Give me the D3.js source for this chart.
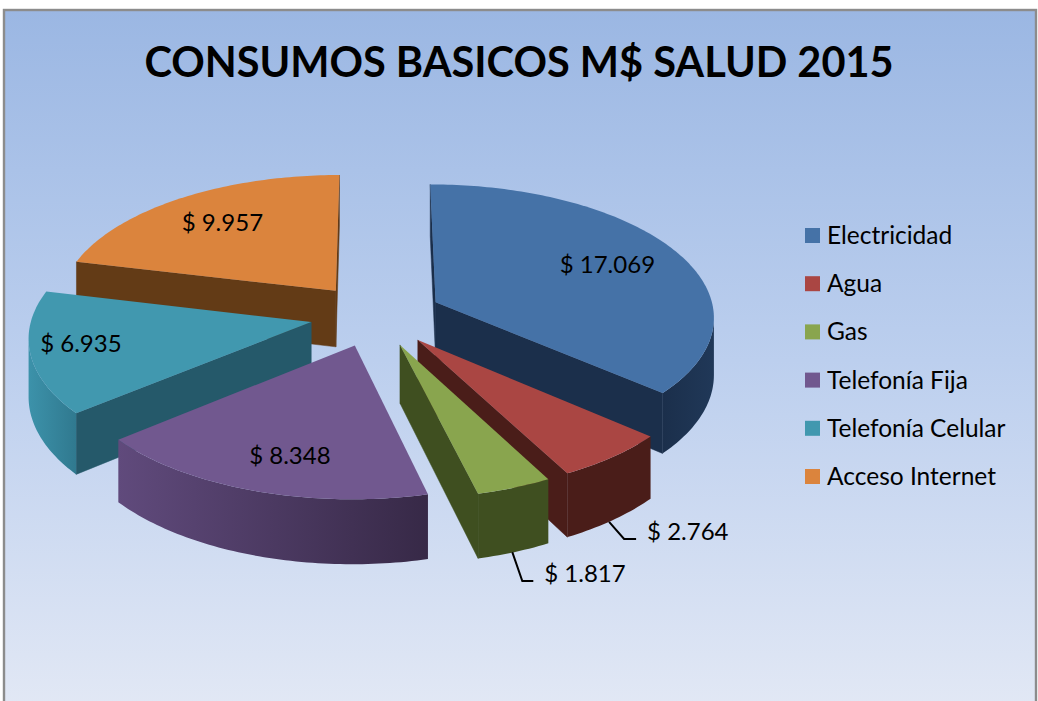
<!DOCTYPE html>
<html>
<head>
<meta charset="utf-8">
<script src="https://cdnjs.cloudflare.com/ajax/libs/d3/7.8.5/d3.min.js"></script>
<style>
html,body{margin:0;padding:0;background:#fff;overflow:hidden}
svg{display:block}
text{font-family:Lato,"Open Sans",sans-serif;fill:#000}
</style>
</head>
<body>
<svg id="c" width="1038" height="701"></svg>
<script>
const title = "CONSUMOS BASICOS M$ SALUD 2015";
const categories = ["Electricidad","Agua","Gas","Telefonía Fija","Telefonía Celular","Acceso Internet"];
const values = [17069,2764,1817,8348,6935,9957];
const valueLabels = ["$ 17.069","$ 2.764","$ 1.817","$ 8.348","$ 6.935","$ 9.957"];
const topColors = ["#4572A7","#AA4643","#89A54E","#71588F","#4198AF","#DB843D"];
const cutColors = ["#1B2F4B","#4A1D19","#3F4F20","#3A2C4F","#25596A","#633B16"];
const rimLeft   = ["#1B2F4B","#4A1D19","#3F4F20","#604A7C","#3C92AA","#633B16"];
const rimRight  = ["#203858","#4A1D19","#3F4F20","#372947","#30798F","#633B16"];

// Camera: pie unit radius, mild perspective (back of the pie is smaller than the front)
const cx=376, cy=315, Ax=279, Ay=132, kx=.1, ky=.1, extrude=57, explode=.237;
function project(theta,r,mid,low){
  const wx=r*Math.sin(theta)+explode*Math.sin(mid);
  const wy=r*Math.cos(theta)+explode*Math.cos(mid);
  const px=cx+Ax*wx/(1+kx*wy);
  const py=cy-Ay*wy/(1+ky*wy);
  return [px, py+(low?extrude/(1+ky*wy):0)];
}
const line=d3.line();

const svg=d3.select("#c");
const defs=svg.append("defs");
const bg=defs.append("linearGradient").attr("id","bg").attr("x1",0).attr("y1",0).attr("x2",0).attr("y2",1);
bg.append("stop").attr("offset",0).attr("stop-color","#9BB7E3");
bg.append("stop").attr("offset",0.5).attr("stop-color","#BCCFEE");
bg.append("stop").attr("offset",1).attr("stop-color","#E2E8F5");
svg.append("rect").attr("x",4).attr("y",10).attr("width",1032).attr("height",700)
  .attr("fill","url(#bg)").attr("stroke","#8C8C8C").attr("stroke-width",2.4);

svg.append("text").attr("x",519).attr("y",77).attr("text-anchor","middle")
  .attr("font-size",41.5).attr("font-weight",700).text(title);

const arcs=d3.pie().sort(null).value(d=>d)(values);
const midOf=a=>(a.startAngle+a.endAngle)/2;
const order=d3.range(arcs.length).sort((a,b)=>Math.cos(midOf(arcs[b]))-Math.cos(midOf(arcs[a])));

const STEP=Math.PI/180;
order.forEach(i=>{
  const a=arcs[i], mid=midOf(a);
  const thetas=d3.range(a.startAngle,a.endAngle,STEP).concat(a.endAngle);
  const g=svg.append("g");
  const P=(t,r,low)=>project(t,r,mid,low);
  const apex=P(0,0,false);
  // radial cut faces: visible when the top edge runs right-to-left on a clockwise outline
  const startVisible=P(a.startAngle,1)[0]<apex[0], endVisible=P(a.endAngle,1)[0]>apex[0];
  [[a.startAngle,startVisible],[a.endAngle,endVisible]].forEach(([t,vis])=>{
    if(!vis) return;
    const quad=[P(t,0,false),P(t,1,false),P(t,1,true),P(t,0,true)];
    g.append("path").attr("d",line(quad)+"Z").attr("fill",cutColors[i]).attr("stroke",cutColors[i]).attr("stroke-width",.5);
  });
  // outer rim: only where the arc runs right-to-left
  const front=thetas.filter((t,j)=>{
    const u=j+1<thetas.length?t:thetas[j-1], v=j+1<thetas.length?thetas[j+1]:t;
    return P(v,1,false)[0]<P(u,1,false)[0];
  });
  if(front.length>1){
    const rim=front.map(t=>P(t,1,false)).concat(front.slice().reverse().map(t=>P(t,1,true)));
    const xs=rim.map(p=>p[0]);
    const id="rim"+i;
    const lg=defs.append("linearGradient").attr("id",id).attr("gradientUnits","userSpaceOnUse")
      .attr("x1",d3.min(xs)).attr("x2",d3.max(xs)).attr("y1",0).attr("y2",0);
    lg.append("stop").attr("offset",0).attr("stop-color",rimLeft[i]);
    lg.append("stop").attr("offset",1).attr("stop-color",rimRight[i]);
    g.append("path").attr("d",line(rim)+"Z").attr("fill","url(#"+id+")");
  }
  // top
  const top=[apex].concat(thetas.map(t=>P(t,1,false)));
  g.append("path").attr("d",line(top)+"Z").attr("fill",topColors[i]);
});

// value labels
const labelFont=24;
const labelSpot=[[0,.71],[0,0],[0,0],[-.05,.77],[.03,.82],[0,.72]];
const leaders=[null,[-4,2,11,19,23,34],[-2,0,8,29,19,30],null,null,null];
arcs.forEach((a,i)=>{
  const mid=midOf(a);
  if(leaders[i]){
    const p=project(mid,1,mid,true), l=leaders[i];
    const path=[[p[0]+l[0],p[1]+l[1]],[p[0]+l[2],p[1]+l[3]],[p[0]+l[4],p[1]+l[3]]];
    svg.append("path").attr("d",line(path)).attr("fill","none").attr("stroke","#000").attr("stroke-width",2);
    svg.append("text").attr("x",p[0]+l[5]).attr("y",p[1]+l[3]+1).attr("font-size",labelFont).text(valueLabels[i]);
  } else {
    const p=project(mid+labelSpot[i][0],labelSpot[i][1],mid,false);
    svg.append("text").attr("x",p[0]).attr("y",p[1]+8).attr("text-anchor","middle").attr("font-size",labelFont).text(valueLabels[i]);
  }
});

// legend
const legendY=d3.scalePoint().domain(categories).range([236,477]);
categories.forEach((c,i)=>{
  svg.append("rect").attr("x",805).attr("y",legendY(c)-8).attr("width",15).attr("height",15).attr("fill",topColors[i]);
  svg.append("text").attr("x",827).attr("y",legendY(c)+8).attr("font-size",24.5).text(c);
});
</script>
</body>
</html>
